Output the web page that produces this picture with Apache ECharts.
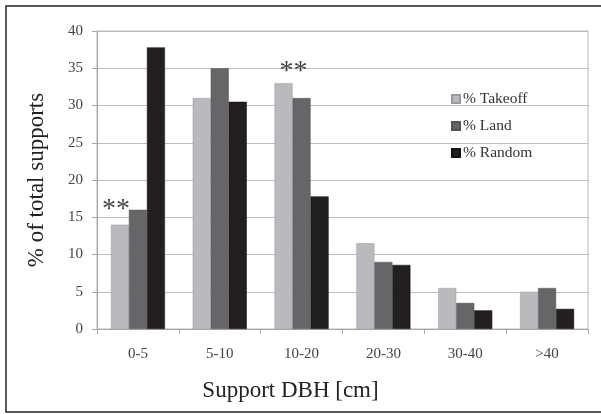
<!DOCTYPE html>
<html>
<head>
<meta charset="utf-8">
<script src="https://cdn.jsdelivr.net/npm/echarts@6/dist/echarts.min.js"></script>
<style>
html,body{margin:0;padding:0;background:#fff;overflow:hidden;}
#chart{width:601px;height:414px;}
</style>
</head>
<body>
<div id="chart"></div>
<script>
const categories = ['0-5', '5-10', '10-20', '20-30', '30-40', '>40'];
const takeoff = [14, 31, 33, 11.5, 5.5, 5];
const land = [16, 35, 31, 9, 3.5, 5.5];
const random = [37.8, 30.5, 17.8, 8.6, 2.5, 2.7];
const takeoffMarks = ['**', '', '**', '', '', ''];
const markOffsets = [[-4, -3], [0, 0], [10, 0], [0, 0], [0, 0], [0, 0]];
const yTicks = { min: 0, max: 40, interval: 5 };

const FONT = 'Liberation Serif';
const chart = echarts.init(document.getElementById('chart'));

const takeoffData = takeoff.map((v, i) => takeoffMarks[i] ? {
  value: v,
  label: {
    show: true, position: 'top', distance: -2, formatter: takeoffMarks[i],
    fontFamily: FONT, fontSize: 28, color: '#444', offset: markOffsets[i]
  }
} : v);

chart.setOption({
  animation: false,
  backgroundColor: '#fff',
  graphic: [{
    type: 'polyline',
    shape: { points: [[620, 6], [6, 6], [6, 412], [620, 412]] },
    style: { fill: 'none', stroke: '#222', lineWidth: 1.5 },
    silent: true
  }],
  grid: { left: 97, top: 31, right: 13, bottom: 85, show: true, borderColor: '#b8b8b8', borderWidth: 1 },
  legend: {
    orient: 'vertical', left: 446, top: 86, itemWidth: 8, itemHeight: 8, itemGap: 11,
    icon: 'rect',
    textStyle: { fontFamily: FONT, fontSize: 15.5, color: '#333', padding: [0, 0, 0, -2] },
    data: ['% Takeoff', '% Land', '% Random']
  },
  xAxis: {
    type: 'category', data: categories,
    name: 'Support DBH [cm]', nameLocation: 'middle', nameGap: 50,
    nameTextStyle: { fontFamily: FONT, fontSize: 23, color: '#222', padding: [0, 104, 0, 0] },
    axisLine: { lineStyle: { color: '#a8a8a8' } },
    axisTick: { show: true, length: 5, lineStyle: { color: '#a8a8a8' } },
    axisLabel: { fontFamily: FONT, fontSize: 15, color: '#444', margin: 18 }
  },
  yAxis: {
    type: 'value', min: yTicks.min, max: yTicks.max, interval: yTicks.interval,
    name: '% of total supports', nameLocation: 'middle', nameGap: 49, nameRotate: 90,
    nameTextStyle: { fontFamily: FONT, fontSize: 23, color: '#222' },
    axisLine: { show: true, lineStyle: { color: '#a8a8a8' } },
    axisTick: { show: true, length: 5, lineStyle: { color: '#a8a8a8' } },
    splitLine: { lineStyle: { color: '#bdbdbd' } },
    axisLabel: { fontFamily: FONT, fontSize: 15, color: '#444', margin: 14 }
  },
  series: [
    { name: '% Takeoff', type: 'bar', data: takeoffData, barGap: '0%', barCategoryGap: '34%',
      itemStyle: { color: '#b9babe', borderColor: '#9a9a9e', borderWidth: 0.5 } },
    { name: '% Land', type: 'bar', data: land, barGap: '0%', barCategoryGap: '34%',
      itemStyle: { color: '#666668', borderColor: '#555557', borderWidth: 0.5 } },
    { name: '% Random', type: 'bar', data: random, barGap: '0%', barCategoryGap: '34%',
      itemStyle: { color: '#231f20', borderColor: '#111', borderWidth: 0.5 } }
  ]
});
</script>
</body>
</html>
